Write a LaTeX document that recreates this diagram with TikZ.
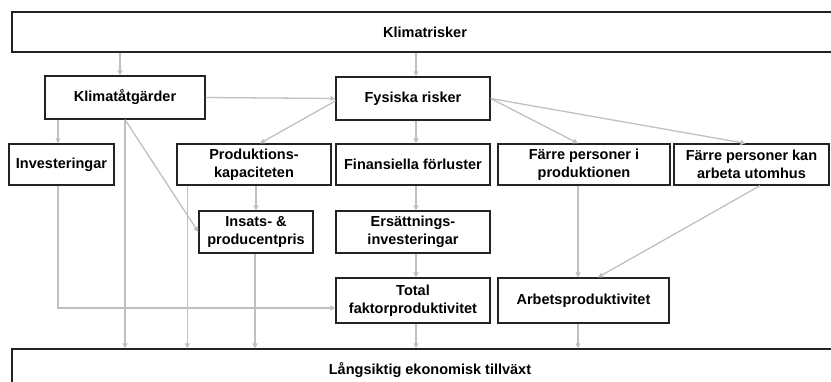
\documentclass[tikz,border=0pt]{standalone}
\usepackage{fontspec}
\setmainfont{Liberation Sans}
\usepackage{xcolor}
\definecolor{boxline}{RGB}{35,35,35}
\definecolor{arrowgray}{RGB}{192,192,192}
\usepackage{tikz}
\usetikzlibrary{arrows.meta,positioning,calc}

\begin{document}
\begin{tikzpicture}[x=1pt,y=-1pt,font=\fontsize{14.5}{18.5}\selectfont\bfseries]
  \tikzstyle{box}=[rectangle,draw=boxline,line width=1.3pt,inner sep=0pt,align=center,minimum height=41pt]
  \tikzstyle{arr}=[draw=arrowgray,line width=1.3pt,-{Triangle[width=5pt,length=5pt]}]
  \useasboundingbox (0,0) rectangle (831,381);
  \node[box,minimum width=826pt,minimum height=40pt] (klimat) at (425,32) {Klimatrisker};
  \node[box,minimum width=836pt,minimum height=52pt] (tillvaxt) at (430,375) {};
  \node (tillvaxttext) at (430,370) {L\aa ngsiktig ekonomisk tillv\"axt};
  \node[box,minimum width=160pt,minimum height=43pt] (atgard) at (125,97.5) {Klimat\aa tg\"arder};
  \node[box,minimum width=154pt,minimum height=43pt] (fysiska) at (413,98.5) {Fysiska risker};
  \node[box,minimum width=105pt] (invest) at (61.5,164.5) {Investeringar};
  \node[box,minimum width=154pt] (prodkap) at (254,164.5) {Produktions-\\kapaciteten};
  \node[box,minimum width=154pt] (finans) at (413,164.5) {Finansiella f\"orluster};
  \node[box,minimum width=172pt] (farreprod) at (584,164.5) {F\"arre personer i\\produktionen};
  \node[box,minimum width=155pt] (farreute) at (751.5,164.5) {F\"arre personer kan\\arbeta utomhus};
  \node[box,minimum width=114pt,minimum height=42pt] (insats) at (256,232) {Insats- \&\\producentpris};
  \node[box,minimum width=154pt,minimum height=42pt] (ersatt) at (413,232) {Ers\"attnings-\\investeringar};
  \node[box,minimum width=154pt,minimum height=45pt] (tfp) at (413,300.5) {Total\\faktorproduktivitet};
  \node[box,minimum width=171pt,minimum height=45pt] (arbets) at (583.5,300.5) {Arbetsproduktivitet};

  \draw[arr] ([xshift=-5pt]atgard.north |- klimat.south) -- ([xshift=-5pt]atgard.north);
  \draw[arr] ([xshift=3pt]fysiska.north |- klimat.south) -- ([xshift=3pt]fysiska.north);
  \draw[arr] (atgard.east) -- (fysiska.west);
  \draw[arr] ([xshift=-3.5pt]invest.north |- atgard.south) -- ([xshift=-3.5pt]invest.north);
  \draw[arr] (atgard.south) -- (atgard.south |- tillvaxt.north);
  \draw[arr] (atgard.south) -- (insats.west);
  \draw[arr] ([yshift=-2.5pt]fysiska.west) -- ([xshift=6pt]prodkap.north);
  \draw[arr] ([xshift=3pt]fysiska.south) -- ([xshift=3pt]finans.north);
  \draw[arr] (fysiska.east) -- ([xshift=-6pt]farreprod.north);
  \draw[arr] (fysiska.east) -- ([xshift=-6pt]farreute.north);
  \draw[arr] ([xshift=11pt]prodkap.south west) -- ([xshift=11pt]prodkap.south west |- tillvaxt.north);
  \draw[arr] (insats.north |- prodkap.south) -- (insats.north);
  \draw[arr] ([xshift=-1pt]insats.south) -- ([xshift=-1pt]insats.south |- tillvaxt.north);
  \draw[arr] ([xshift=-3.5pt]invest.south) |- ([yshift=-7.5pt]tfp.west);
  \draw[arr] ([xshift=3pt]finans.south) -- ([xshift=3pt]ersatt.north);
  \draw[arr] ([xshift=3pt]ersatt.south) -- ([xshift=3pt]tfp.north);
  \draw[arr] ([xshift=3pt]tfp.south) -- ([xshift=3pt]tfp.south |- tillvaxt.north);
  \draw[arr] ([xshift=-6pt]farreprod.south) -- ([xshift=-5.5pt]arbets.north);
  \draw[arr] ([xshift=8.5pt]farreute.south) -- ([xshift=14.5pt]arbets.north);
  \draw[arr] ([xshift=-5.5pt]arbets.south) -- ([xshift=-5.5pt]arbets.south |- tillvaxt.north);
\end{tikzpicture}
\end{document}
